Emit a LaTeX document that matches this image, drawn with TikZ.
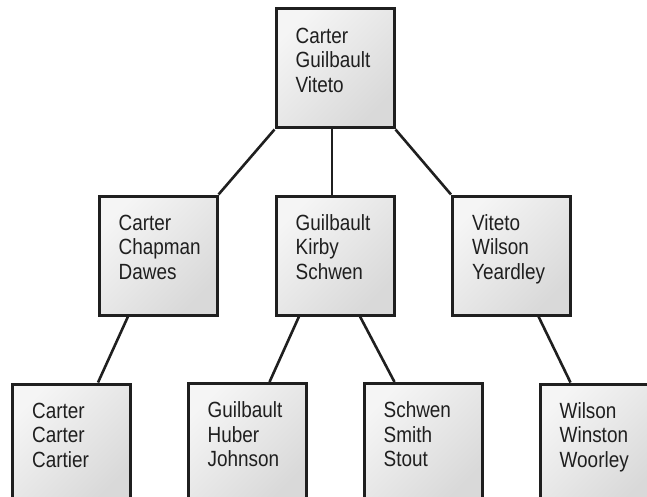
\documentclass[tikz,border=0pt]{standalone}
\usepackage{fontspec}
\setmainfont{Liberation Sans}[FakeStretch=0.86]
\usetikzlibrary{backgrounds}
\begin{document}
\begin{tikzpicture}[x=1pt,y=-1pt,
  keybox/.style={draw=black!88, line width=3pt, rectangle,
    minimum width=118pt, minimum height=119pt, inner sep=0pt,
    shading=axis, top color=black!4, bottom color=black!15, shading angle=45},
  keytext/.style={anchor=base west, inner sep=0pt, text width=95pt, align=left,
    text=black!88, font=\fontsize{22}{24.5}\selectfont},
  link/.style={draw=black!88, line width=2.6pt}]
\useasboundingbox (0,0) rectangle (647,497);
\clip (0,0) rectangle (647,497);

% root
\node[keybox] (root) at (335,68.5) {};
% second level
\node[keybox] (left)  at (158,255.5) {};
\node[keybox] (mid)   at (335,255.5) {};
\node[keybox] (right) at (511.5,255.5) {};
% leaves (run past the lower edge)
\node[keybox] (l1) at (71.5,443.5) {};
\node[keybox] (l2) at (247,443) {};
\node[keybox] (l3) at (423,443) {};
\node[keybox] (l4) at (599,443.5) {};

% key lists
\node[keytext] (troot)  at ([xshift=21pt,yshift=-35.7pt]root.north west)  {Carter\\Guilbault\\Viteto};
\node[keytext] (tleft)  at ([xshift=21pt,yshift=-35.7pt]left.north west)  {Carter\\Chapman\\Dawes};
\node[keytext] (tmid)   at ([xshift=21pt,yshift=-35.7pt]mid.north west)   {Guilbault\\Kirby\\Schwen};
\node[keytext] (tright) at ([xshift=21pt,yshift=-35.7pt]right.north west) {Viteto\\Wilson\\Yeardley};
\node[keytext] (tl1) at ([xshift=21pt,yshift=-35.7pt]l1.north west) {Carter\\Carter\\Cartier};
\node[keytext] (tl2) at ([xshift=21pt,yshift=-35.7pt]l2.north west) {Guilbault\\Huber\\Johnson};
\node[keytext] (tl3) at ([xshift=21pt,yshift=-35.7pt]l3.north west) {Schwen\\Smith\\Stout};
\node[keytext] (tl4) at ([xshift=21pt,yshift=-35.7pt]l4.north west) {Wilson\\Winston\\Woorley};

% tree links, drawn behind the boxes
\begin{scope}[on background layer]
\draw[link] (root.south west) -- (left.north east);
\draw[link] ([xshift=-3pt]root.south) -- ([xshift=-3pt]mid.north);
\draw[link] (root.south east) -- (right.north west);
\draw[link] ([xshift=-30pt]left.south) -- ([xshift=87pt]l1.north west);
\draw[link] ([xshift=-36pt]mid.south) -- ([xshift=83pt]l2.north west);
\draw[link] ([xshift=25pt]mid.south) -- ([xshift=32pt]l3.north west);
\draw[link] ([xshift=27pt]right.south) -- ([xshift=32pt]l4.north west);
\end{scope}
\end{tikzpicture}
\end{document}
